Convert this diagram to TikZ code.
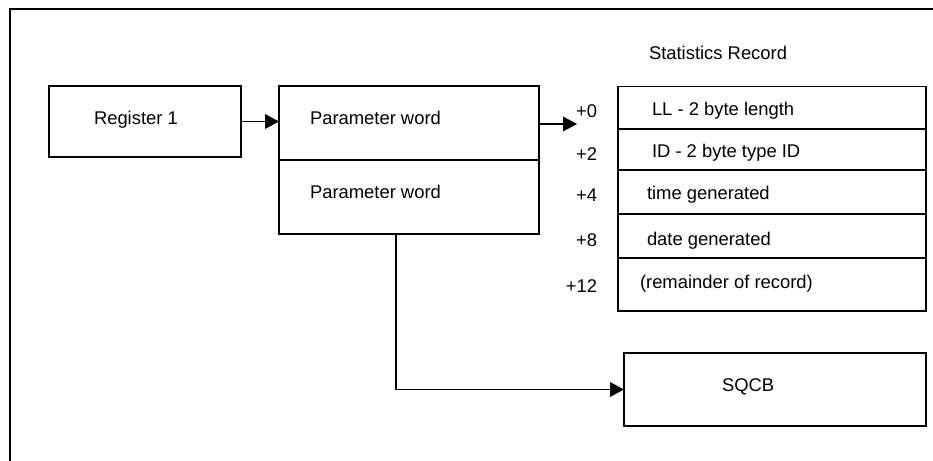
\documentclass[tikz,border=0pt]{standalone}
\usepackage{fontspec}
\setmainfont{Liberation Sans}
\usetikzlibrary{arrows.meta}
\begin{document}
\begin{tikzpicture}[x=0.75pt,y=-0.75pt,
  box/.style={draw,line width=0.9pt,inner sep=0pt,outer sep=0pt,rectangle},
  lbl/.style={inner sep=0pt,outer sep=0pt,anchor=base west,font=\fontsize{13.8pt}{16pt}\selectfont},
  off/.style={inner sep=0pt,outer sep=0pt,anchor=base east,font=\fontsize{13.8pt}{16pt}\selectfont},
  conn/.style={line width=0.9pt},
  arr/.style={line width=0.9pt,-{Triangle[length=10.5pt,width=11pt]}}]
\useasboundingbox (0,0) rectangle (933,461);
% frame
\draw[line width=0.9pt] (933,9) -- (10,9) -- (10,461);
% boxes
\node[box,minimum width=144pt,minimum height=53.25pt] (reg) at (145,121.5) {};
\node[box,minimum width=195pt,minimum height=55.5pt] (param1) at (409,123) {};
\node[box,minimum width=195pt,minimum height=55.5pt] (param2) at (409,197) {};
\node[box,minimum width=231pt,minimum height=31.875pt] (s0) at (772,107.75) {};
\node[box,minimum width=231pt,minimum height=30.75pt] (s2) at (772,149.5) {};
\node[box,minimum width=231pt,minimum height=33pt] (s4) at (772,192) {};
\node[box,minimum width=231pt,minimum height=33pt] (s8) at (772,236) {};
\node[box,minimum width=231pt,minimum height=39.75pt] (s12) at (772,284.5) {};
\node[box,minimum width=226.5pt,minimum height=54.75pt] (sqcb) at (775,389.5) {};
% texts
\node[lbl] (title) at (649,59.5) {Statistics Record};
\node[lbl] (treg) at (94,124) {Register 1};
\node[lbl] (tp1) at (310,124.5) {Parameter word};
\node[lbl] (tp2) at (310,198.5) {Parameter word};
\node[lbl] (t0) at (652,115.5) {LL - 2 byte length};
\node[lbl] (t2) at (652,157) {ID - 2 byte type ID};
\node[lbl] (t4) at (647,199) {time generated};
\node[lbl] (t8) at (647,245) {date generated};
\node[lbl] (t12) at (640,288) {(remainder of record)};
\node[lbl] (tsqcb) at (722,391) {SQCB};
\node[off] (o0) at (597,117) {+0};
\node[off] (o2) at (597,160) {+2};
\node[off] (o4) at (597,201.5) {+4};
\node[off] (o8) at (597,246.5) {+8};
\node[off] (o12) at (597,292) {+12};
% connectors
\coordinate (p0) at (577,124);
\coordinate (c1) at (396,234);
\draw[arr] (reg.east) -- (reg.east -| param1.west);
\draw[arr] (param1.east |- p0) -- (p0);
\draw[arr] (c1) |- (sqcb.west);
\end{tikzpicture}
\end{document}
